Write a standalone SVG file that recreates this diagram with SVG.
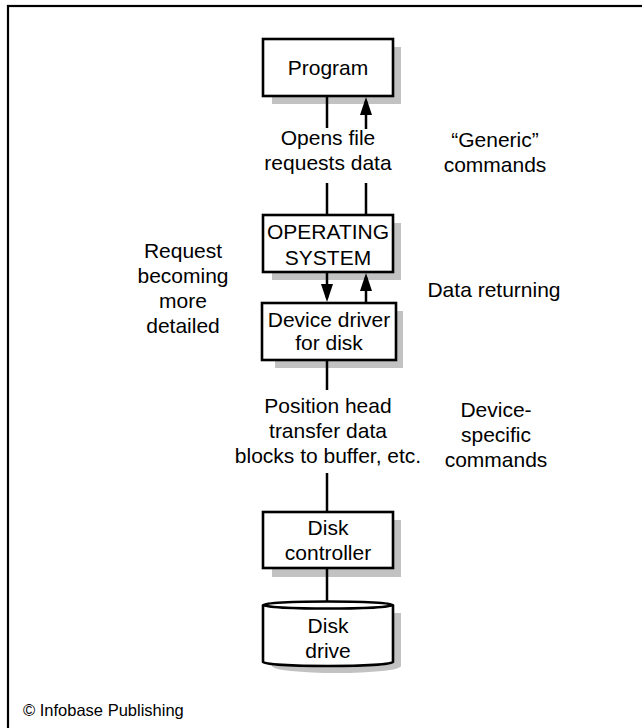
<svg xmlns="http://www.w3.org/2000/svg" width="642" height="728" viewBox="0 0 642 728">
<style>
.frame{fill:none;stroke:#000;stroke-width:2.2}
.box{fill:#fff;stroke:#000;stroke-width:2.6}
.shadow{fill:#c2c2c2;stroke:none}
.lbl{font-family:"Liberation Sans",Arial,sans-serif;font-size:21px;fill:#000;text-anchor:middle}
.conn{stroke:#000;stroke-width:2.5;fill:none}
.copy{font-family:"Liberation Sans",Arial,sans-serif;font-size:16.5px;fill:#000}
</style>
<defs>
<marker id="ah" markerUnits="userSpaceOnUse" markerWidth="18" markerHeight="12" refX="14" refY="6" orient="auto">
<path d="M0,0 L18,6 L0,12 z" fill="#000"/>
</marker>
</defs>
<rect class="frame" x="8" y="6" width="650" height="740"/>

<g id="program">
<rect class="shadow" x="272" y="47" width="129" height="57"/>
<rect class="box" x="263" y="39" width="130" height="57"/>
<text class="lbl" x="328" y="75">Program</text>
</g>

<g id="os">
<rect class="shadow" x="272" y="223" width="129" height="57"/>
<rect class="box" x="263" y="215" width="130" height="57"/>
<text class="lbl" x="328" y="239">OPERATING</text>
<text class="lbl" x="328" y="265">SYSTEM</text>
</g>

<g id="driver">
<rect class="shadow" x="275" y="311" width="128" height="57"/>
<rect class="box" x="262" y="303" width="134" height="57"/>
<text class="lbl" x="329" y="327">Device driver</text>
<text class="lbl" x="329" y="350">for disk</text>
</g>

<g id="controller">
<rect class="shadow" x="272" y="520" width="129" height="57"/>
<rect class="box" x="263" y="512" width="130" height="56"/>
<text class="lbl" x="328" y="535">Disk</text>
<text class="lbl" x="328" y="560">controller</text>
</g>

<g id="disk">
<path class="shadow" d="M272,613 L401,613 L401,666 A64.5,7 0 0 1 272,666 Z"/>
<path class="box" d="M263,605 L263,662 A65,4 0 0 0 393,662 L393,605"/>
<ellipse class="box" cx="328" cy="605" rx="65" ry="3.5"/>
<text class="lbl" x="328" y="633">Disk</text>
<text class="lbl" x="328" y="658">drive</text>
</g>

<g id="connectors">
<line class="conn" x1="327" y1="96" x2="327" y2="128"/>
<line class="conn" x1="327" y1="183" x2="327" y2="215"/>
<line class="conn" x1="366" y1="129" x2="366" y2="101" marker-end="url(#ah)"/>
<line class="conn" x1="366" y1="215" x2="366" y2="183"/>
<line class="conn" x1="327" y1="272" x2="327" y2="298" marker-end="url(#ah)"/>
<line class="conn" x1="366" y1="303" x2="366" y2="277" marker-end="url(#ah)"/>
<line class="conn" x1="327" y1="360" x2="327" y2="390"/>
<line class="conn" x1="327" y1="473" x2="327" y2="512"/>
<line class="conn" x1="327" y1="568" x2="327" y2="602"/>
</g>

<g id="labels">
<text class="lbl" x="328" y="145">Opens file</text>
<text class="lbl" x="328" y="170">requests data</text>
<text class="lbl" x="495" y="147">“Generic”</text>
<text class="lbl" x="495" y="172">commands</text>
<text class="lbl" x="183" y="258">Request</text>
<text class="lbl" x="183" y="283">becoming</text>
<text class="lbl" x="183" y="308">more</text>
<text class="lbl" x="183" y="333">detailed</text>
<text class="lbl" x="494" y="297">Data returning</text>
<text class="lbl" x="328" y="413">Position head</text>
<text class="lbl" x="328" y="438">transfer data</text>
<text class="lbl" x="328" y="463">blocks to buffer, etc.</text>
<text class="lbl" x="496" y="417">Device-</text>
<text class="lbl" x="496" y="442">specific</text>
<text class="lbl" x="496" y="467">commands</text>
<text class="copy" x="23" y="716">© Infobase Publishing</text>
</g>
</svg>
